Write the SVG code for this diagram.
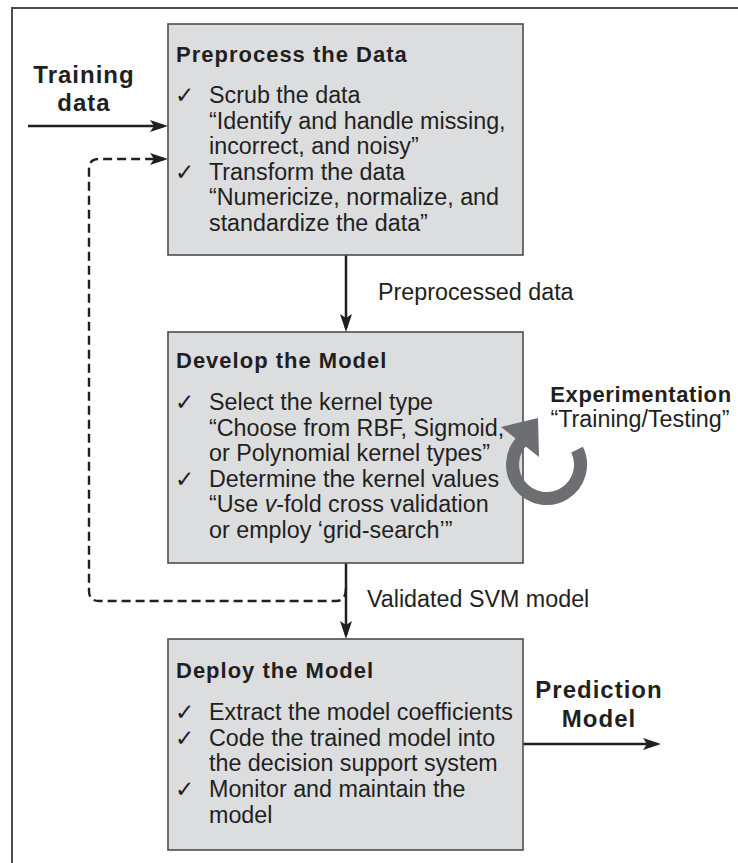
<svg xmlns="http://www.w3.org/2000/svg" width="738" height="863" viewBox="0 0 738 863">
<style>
.box{fill:#dcdddf;stroke:#4d4d4f;stroke-width:1.6}
.t{font-family:"Liberation Sans",Arial,sans-serif;font-size:23.3px;fill:#231f20}
.h{font-family:"Liberation Sans",Arial,sans-serif;font-size:22px;font-weight:bold;letter-spacing:1px;fill:#231f20}
.b{font-family:"Liberation Sans",Arial,sans-serif;font-size:24px;font-weight:bold;letter-spacing:1px;fill:#231f20;text-anchor:middle}
.ck{font-family:"DejaVu Sans",sans-serif;font-size:23px;fill:#231f20}
.ln{fill:none;stroke:#231f20;stroke-width:2.5}
.dash{fill:none;stroke:#231f20;stroke-width:2.4;stroke-dasharray:9 5}
</style>
<defs>
<marker id="ah" viewBox="0 0 18 12" refX="14" refY="6" markerWidth="18" markerHeight="12" markerUnits="userSpaceOnUse" orient="auto">
<path d="M0,0 L18,6 L0,12 L4,6 Z" fill="#231f20"/>
</marker>
</defs>
<g id="frame">
<path d="M12,863 L12,8 L738,8" fill="none" stroke="#4d4d4f" stroke-width="2"/>
</g>
<g id="connectors">
<line class="ln" x1="28" y1="126" x2="164" y2="126" marker-end="url(#ah)"/>
<path class="dash" d="M346,588 Q346,601 336,601 L99,601 Q89,601 89,591 L89,169 Q89,159 99,159 L164,159" marker-end="url(#ah)"/>
<line class="ln" x1="346" y1="255" x2="346" y2="328" marker-end="url(#ah)"/>
<line class="ln" x1="346" y1="563" x2="346" y2="635" marker-end="url(#ah)"/>
<line class="ln" x1="523" y1="744" x2="657" y2="744" marker-end="url(#ah)"/>
</g>
<g id="training-data">
<text class="b" x="84" y="83">Training</text>
<text class="b" x="84" y="111">data</text>
</g>
<g id="preprocess">
<rect class="box" x="168" y="24" width="355" height="231"/>
<text class="h" x="176" y="62">Preprocess the Data</text>
<text class="ck" x="175" y="103">✓</text>
<text class="t" x="209" y="103">Scrub the data</text>
<text class="t" x="209" y="128.6">“Identify and handle missing,</text>
<text class="t" x="209" y="154.2">incorrect, and noisy”</text>
<text class="ck" x="175" y="179.8">✓</text>
<text class="t" x="209" y="179.8">Transform the data</text>
<text class="t" x="209" y="205.4">“Numericize, normalize, and</text>
<text class="t" x="209" y="231">standardize the data”</text>
</g>
<g id="label-preprocessed">
<text class="t" x="378" y="300">Preprocessed data</text>
</g>
<g id="develop">
<rect class="box" x="168" y="332" width="355" height="231"/>
<text class="h" x="176" y="368">Develop the Model</text>
<text class="ck" x="175" y="410">✓</text>
<text class="t" x="209" y="410">Select the kernel type</text>
<text class="t" x="209" y="435.6">“Choose from RBF, Sigmoid,</text>
<text class="t" x="209" y="461.2">or Polynomial kernel types”</text>
<text class="ck" x="175" y="486.8">✓</text>
<text class="t" x="209" y="486.8">Determine the kernel values</text>
<text class="t" x="209" y="512.4">“Use <tspan font-style="italic">v</tspan>-fold cross validation</text>
<text class="t" x="209" y="538">or employ ‘grid-search’”</text>
</g>
<g id="experimentation">
<path d="M577.1,449.6 A34,34 0 1 1 522.5,440.5" fill="none" stroke="#6d6e71" stroke-width="13"/>
<polygon points="501,427 538,418 539,457" fill="#6d6e71"/>
<text class="h" x="641" y="402" text-anchor="middle" style="letter-spacing:0.6px">Experimentation</text>
<text class="t" x="640" y="427" text-anchor="middle">“Training/Testing”</text>
</g>
<g id="label-validated">
<text class="t" x="367" y="607">Validated SVM model</text>
</g>
<g id="deploy">
<rect class="box" x="168" y="639" width="355" height="211"/>
<text class="h" x="176" y="678">Deploy the Model</text>
<text class="ck" x="175" y="720">✓</text>
<text class="t" x="209" y="720">Extract the model coefficients</text>
<text class="ck" x="175" y="745.7">✓</text>
<text class="t" x="209" y="745.7">Code the trained model into</text>
<text class="t" x="209" y="771.4">the decision support system</text>
<text class="ck" x="175" y="797.1">✓</text>
<text class="t" x="209" y="797.1">Monitor and maintain the</text>
<text class="t" x="209" y="822.8">model</text>
</g>
<g id="prediction-model">
<text class="b" x="599" y="698">Prediction</text>
<text class="b" x="599" y="727">Model</text>
</g>
</svg>
